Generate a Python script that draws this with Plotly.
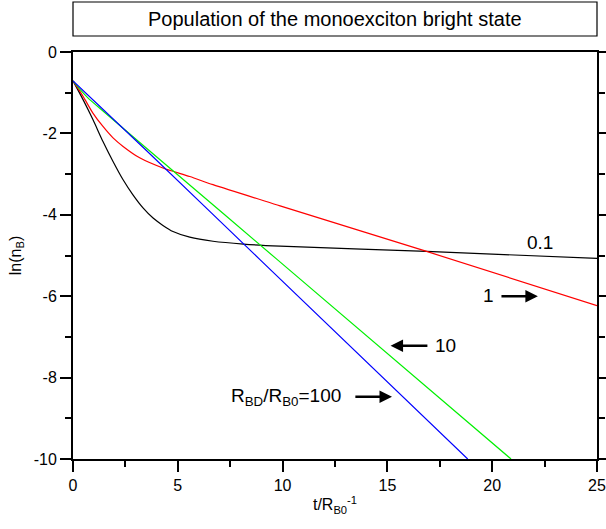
import plotly.graph_objects as go

# ---- data ----
t_black = [0, 0.48, 0.95, 1.43, 1.91, 2.39, 2.86, 3.34, 3.82, 4.29, 4.77, 5.57, 6.68, 8.13, 9.88, 16.87, 25]
y_black = [-0.71, -1.17, -1.66, -2.20, -2.69, -3.14, -3.51, -3.83, -4.08, -4.26, -4.41, -4.55, -4.65, -4.72, -4.77, -4.90, -5.07]

t_red = [0, 0.48, 0.95, 1.43, 1.91, 2.39, 3.18, 4.29, 5.57, 6.68, 9.88, 16.87, 25]
y_red = [-0.71, -1.09, -1.50, -1.83, -2.11, -2.32, -2.60, -2.85, -3.06, -3.26, -3.78, -4.90, -6.23]

t_green = [0, 0.3, 0.7, 1.5, 3.59, 9.72, 20.9]
y_green = [-0.71, -0.90, -1.12, -1.48, -2.40, -5.09, -10.0]

t_blue = [0, 3.44, 8.92, 18.83]
y_blue = [-0.71, -2.39, -5.10, -10.0]

x_ticks = [0, 5, 10, 15, 20, 25]
x_ticktext = ["0", "5", "10", "15", "20", "25"]
y_ticks = [0, -2, -4, -6, -8, -10]
y_ticktext = ["0", "-2", "-4", "-6", "-8", "-10"]

title_text = "Population of the monoexciton bright state"
FONT = "Liberation Sans, Arial, sans-serif"

fig = go.Figure()
for tt, yy, col in [(t_black, y_black, "#000000"), (t_red, y_red, "#ff0000"),
                    (t_green, y_green, "#00f000"), (t_blue, y_blue, "#0000ff")]:
    fig.add_trace(go.Scatter(x=tt, y=yy, mode="lines",
                             line=dict(color=col, width=1.2, shape="spline", smoothing=0.8),
                             showlegend=False, hoverinfo="skip"))

axis_common = dict(showgrid=False, zeroline=False, showline=True, linecolor="black",
                   linewidth=2, ticks="outside", tickcolor="black", tickwidth=1.5,
                   ticklen=11, automargin=False,
                   tickfont=dict(family=FONT, size=16, color="black"),
                   minor=dict(ticks="outside", ticklen=6, tickcolor="black", tickwidth=1.5))

fig.update_xaxes(range=[0, 25], tickvals=x_ticks, ticktext=x_ticktext, mirror=True,
                 title=dict(text="t/R<sub>B0</sub><sup>-1</sup>",
                            font=dict(family=FONT, size=16, color="black"), standoff=6),
                 **axis_common)
fig.update_xaxes(minor_dtick=2.5)
fig.update_yaxes(range=[-10, 0], tickvals=y_ticks, ticktext=y_ticktext, mirror="ticks",
                 title=dict(text="ln(n<sub>B</sub>)",
                            font=dict(family=FONT, size=16, color="black"), standoff=8),
                 **axis_common)
fig.update_yaxes(minor_dtick=1)

# title box
fig.add_shape(type="rect", xref="paper", yref="paper", x0=0, x1=1, y0=1.0393, y1=1.1229,
              line=dict(color="black", width=1.2), fillcolor="white")
fig.add_annotation(xref="paper", yref="paper", x=0.5, y=1.081, yanchor="middle",
                   text=title_text, showarrow=False,
                   font=dict(family=FONT, size=20, color="black"))

# labels
labels = [(22.28, -4.69, "0.1"), (19.8, -5.98, "1"), (17.77, -7.22, "10"),
          (10.14, -8.47, "R<sub>BD</sub>/R<sub>B0</sub>=100")]
for lx, ly, lt in labels:
    fig.add_annotation(x=lx, y=ly, text=lt, showarrow=False,
                       font=dict(family=FONT, size=19, color="black"))

# arrows (tip, tail)
arrows = [((22.18, -6.0), (20.37, -6.0)), ((15.15, -7.22), (16.98, -7.22)),
          ((15.22, -8.47), (13.4, -8.47))]
for (hx, hy), (tx, ty) in arrows:
    fig.add_annotation(x=hx, y=hy, ax=tx, ay=ty, axref="x", ayref="y", text="",
                       showarrow=True, arrowhead=2, arrowsize=1, arrowwidth=2.5,
                       arrowcolor="black")

fig.update_layout(width=606, height=529, margin=dict(l=73, r=9, t=52, b=70),
                  paper_bgcolor="white", plot_bgcolor="white",
                  font=dict(family=FONT, size=16, color="black"))

fig.write_html("out.html", config={"displayModeBar": False},
               post_script="document.body.style.margin='0';")
